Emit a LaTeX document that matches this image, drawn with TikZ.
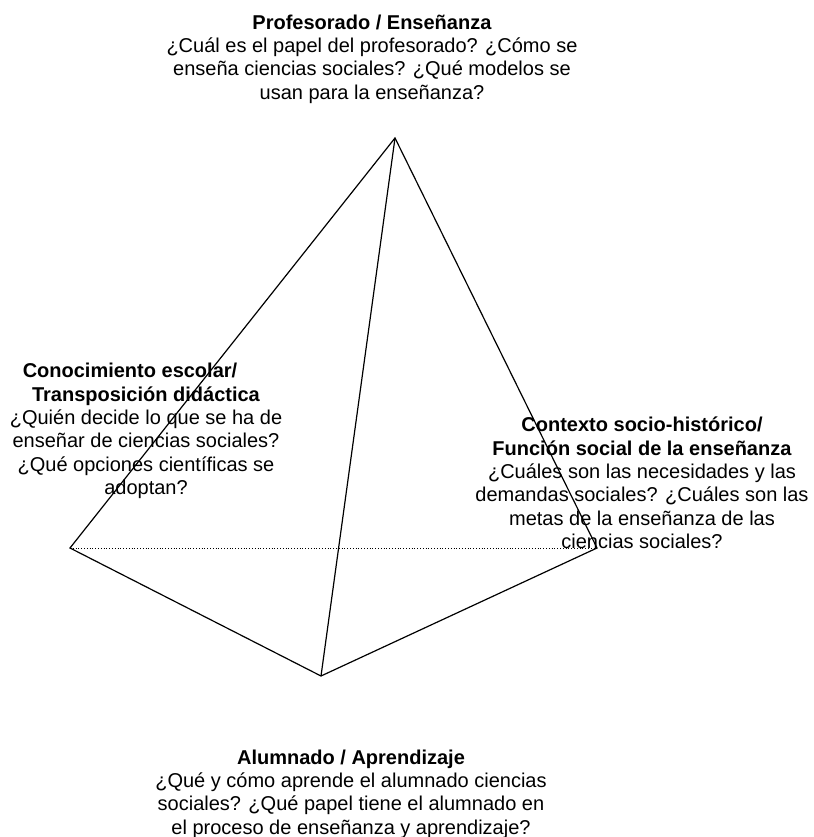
\documentclass[tikz,border=0pt]{standalone}
\usepackage{fontspec}
\setmainfont{Liberation Sans}
\usetikzlibrary{backgrounds}

\tikzset{
	eje/.style={line width=1.2pt, black},
	oculto/.style={line width=0.8pt, black, dotted},
	vertice/.style={align=center, font=\fontsize{20}{23.3}\selectfont, inner sep=0pt}
}

\begin{document}
\begin{tikzpicture}[x=1pt, y=-1pt]% {{{ tetraedro didactico
	\useasboundingbox (0,0) rectangle (813,837);
	\coordinate (prof) at (395,138);
	\coordinate (cono) at (70,548);
	\coordinate (cont) at (597,548);
	\coordinate (alum) at (321,676);

	\node[vertice] (tprof) at (372,59) {\textbf{Profesorado / Enseñanza}\\ ¿Cuál es el papel del profesorado? ¿Cómo se\\ enseña ciencias sociales? ¿Qué modelos se\\ usan para la enseñanza?};
	\node[vertice] (tcono) at (146,431) {\textbf{Conocimiento escolar/}\hspace*{32pt}\\ \textbf{Transposición didáctica}\hspace*{32pt}\\ ¿Quién decide lo que se ha de\\ enseñar de ciencias sociales?\\ ¿Qué opciones científicas se\\ adoptan?};
	\node[vertice] (tcont) at (642,483) {\textbf{Contexto socio-histórico/}\\ \textbf{Función social de la enseñanza}\\ ¿Cuáles son las necesidades y las\\ demandas sociales? ¿Cuáles son las\\ metas de la enseñanza de las\\ ciencias sociales?};
	\node[vertice] (talum) at (351,794) {\textbf{Alumnado / Aprendizaje}\\ ¿Qué y cómo aprende el alumnado ciencias\\ sociales? ¿Qué papel tiene el alumnado en\\ el proceso de enseñanza y aprendizaje?};

	\draw[oculto] (cono) -- (cont);
	\draw[eje] (cono) -- (prof) -- (cont) -- (alum) -- cycle;
	\draw[eje] (prof) -- (alum);
\end{tikzpicture}
\end{document}
